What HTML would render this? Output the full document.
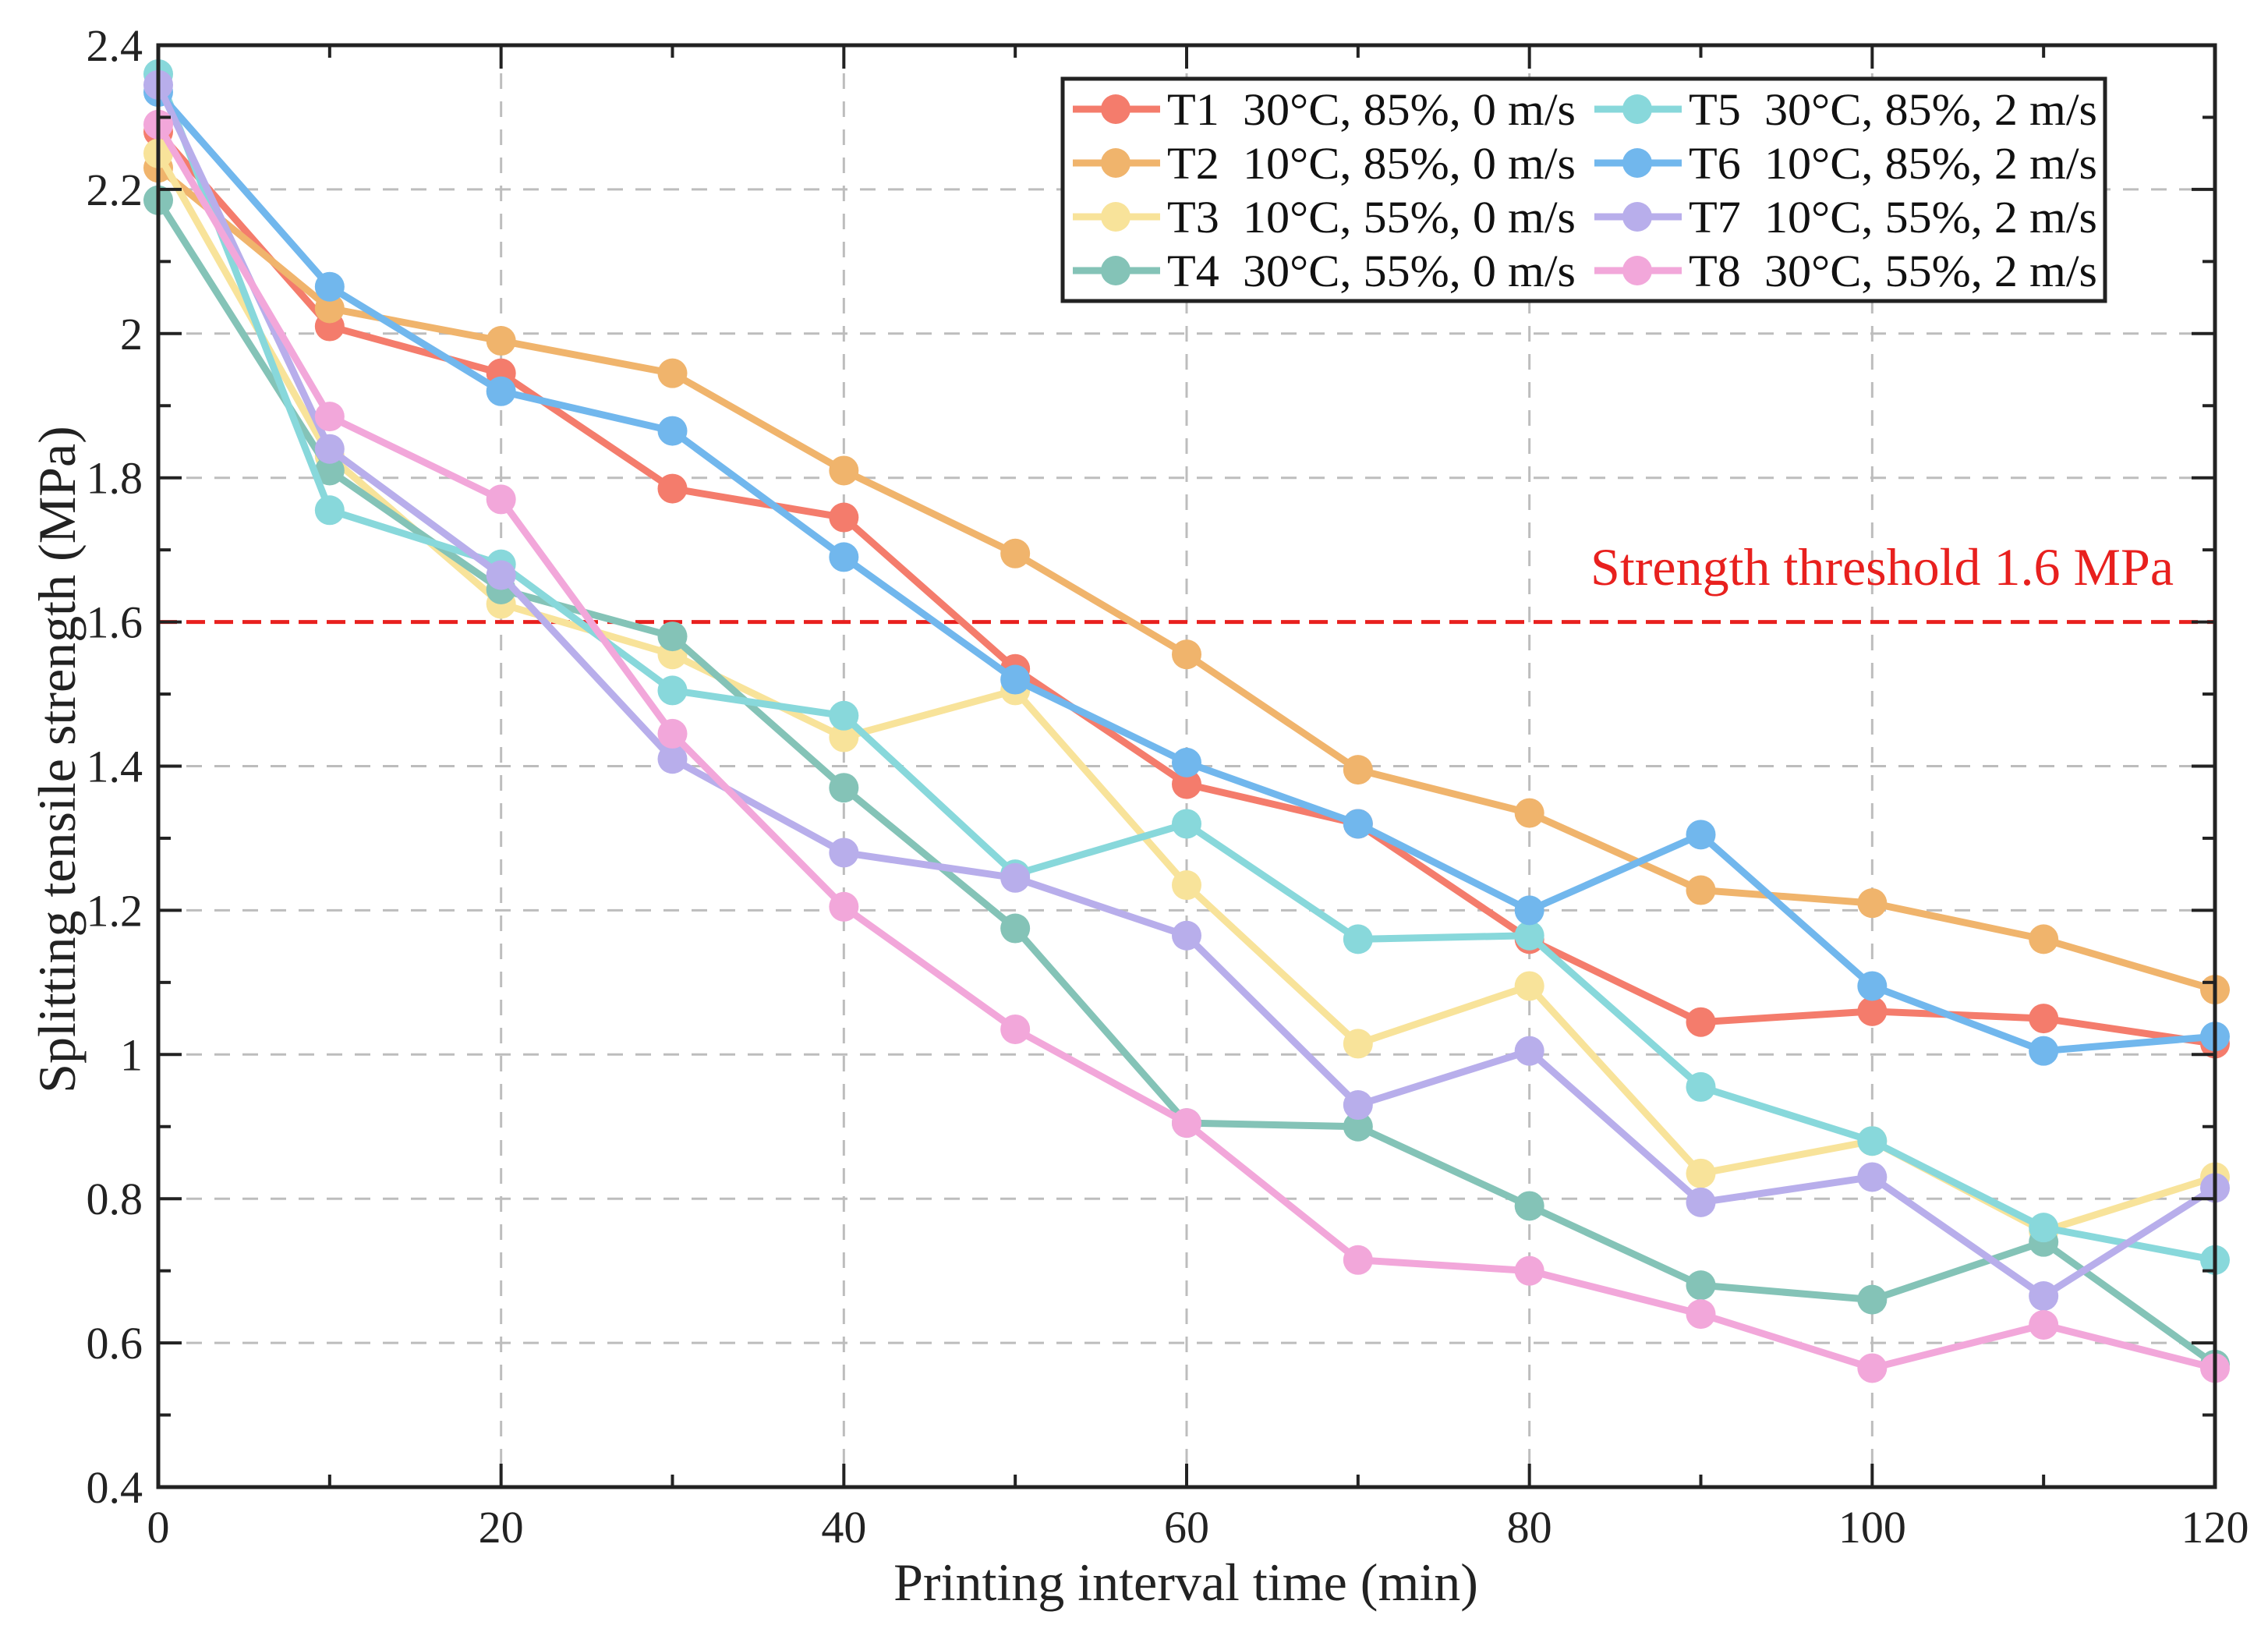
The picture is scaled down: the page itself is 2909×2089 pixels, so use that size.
<!DOCTYPE html>
<html><head><meta charset="utf-8"><style>
html,body{margin:0;padding:0;background:#fff;}
svg{display:block;font-family:"Liberation Serif",serif;}
</style></head><body>
<svg id="chart" width="2909" height="2089" viewBox="0 0 2909 2089" xmlns="http://www.w3.org/2000/svg"></svg>
<script>
const xValues=[0,10,20,30,40,50,60,70,80,90,100,110,120];
const seriesNames=["T1  30°C, 85%, 0 m/s","T2  10°C, 85%, 0 m/s","T3  10°C, 55%, 0 m/s","T4  30°C, 55%, 0 m/s","T5  30°C, 85%, 2 m/s","T6  10°C, 85%, 2 m/s","T7  10°C, 55%, 2 m/s","T8  30°C, 55%, 2 m/s"];
const t1=[2.28,2.01,1.945,1.785,1.745,1.535,1.375,1.32,1.16,1.045,1.06,1.05,1.015];
const t2=[2.23,2.035,1.99,1.945,1.81,1.695,1.555,1.395,1.335,1.228,1.21,1.16,1.09];
const t3=[2.25,1.83,1.625,1.555,1.44,1.505,1.235,1.015,1.095,0.835,0.88,0.755,0.83];
const t4=[2.185,1.81,1.645,1.58,1.37,1.175,0.905,0.9,0.79,0.68,0.66,0.74,0.57];
const t5=[2.36,1.755,1.68,1.505,1.47,1.25,1.32,1.16,1.165,0.955,0.88,0.76,0.715];
const t6=[2.335,2.065,1.92,1.865,1.69,1.52,1.405,1.32,1.2,1.305,1.095,1.005,1.025];
const t7=[2.345,1.84,1.665,1.41,1.28,1.245,1.165,0.93,1.005,0.795,0.83,0.665,0.815];
const t8=[2.29,1.885,1.77,1.445,1.205,1.035,0.905,0.715,0.7,0.64,0.565,0.625,0.565];
const xTicks=[0,20,40,60,80,100,120];
const yTicks=[0.4,0.6,0.8,1,1.2,1.4,1.6,1.8,2,2.2,2.4];
const threshold=1.6;
const colors=["#f47c6c","#f0b46c","#f8e39a","#84c3b7","#88d8db","#71b7ed","#b8aeeb","#f2a7da"];
const series=[t1,t2,t3,t4,t5,t6,t7,t8];

const svg=document.getElementById('chart');
const NS="http://www.w3.org/2000/svg";
const L=203,R=2841,T=58,B=1907;
const X=v=>L+(v-0)/(120-0)*(R-L);
const Y=v=>B-(v-0.4)/(2.4-0.4)*(B-T);
function mk(tag,attrs,parent){const e=document.createElementNS(NS,tag);for(const k in attrs)e.setAttribute(k,attrs[k]);(parent||svg).appendChild(e);return e;}

const grid=mk('g',{});


xTicks.forEach(v=>{if(v>0&&v<120){const l=mk('line',{x1:X(v),x2:X(v),y1:T,y2:B,stroke:'#bdbdbd','stroke-width':3,'stroke-dasharray':'20 16'},grid);

}});
yTicks.forEach(v=>{if(v>0.4&&v<2.4){const l=mk('line',{x1:L,x2:R,y1:Y(v),y2:Y(v),stroke:'#bdbdbd','stroke-width':3,'stroke-dasharray':'20 16'},grid);

}});

const th=mk('line',{x1:L,x2:R,y1:Y(threshold),y2:Y(threshold),stroke:'#e8201e','stroke-width':5,'stroke-dasharray':'24 12'});


const tt=mk('text',{x:2788,y:750,'text-anchor':'end','font-size':68,fill:'#e8201e'});
tt.textContent='Strength threshold 1.6 MPa';



series.forEach((s,i)=>{
  const g=mk('g',{});
  
  
  const pts=s.map((v,j)=>X(xValues[j])+','+Y(v)).join(' ');
  const pl=mk('polyline',{points:pts,fill:'none',stroke:colors[i],'stroke-width':9,'stroke-linejoin':'round'},g);
  
  
  s.forEach((v,j)=>{const c=mk('circle',{cx:X(xValues[j]),cy:Y(v),r:19,fill:colors[i]},g);
  
  });
});

const ax=mk('g',{});


for(let v=0;v<=120;v+=10){const len=(v%20===0)?30:16;
  mk('line',{x1:X(v),x2:X(v),y1:B,y2:B-len,stroke:'#222','stroke-width':4},ax);
  mk('line',{x1:X(v),x2:X(v),y1:T,y2:T+len,stroke:'#222','stroke-width':4},ax);}
for(let k=4;k<=24;k++){const v=k/10;const len=(k%2===0)?30:16;
  mk('line',{x1:L,x2:L+len,y1:Y(v),y2:Y(v),stroke:'#222','stroke-width':4},ax);
  mk('line',{x1:R,x2:R-len,y1:Y(v),y2:Y(v),stroke:'#222','stroke-width':4},ax);}
mk('rect',{x:L,y:T,width:R-L,height:B-T,fill:'none',stroke:'#222','stroke-width':5},ax);

xTicks.forEach(v=>{const t=mk('text',{x:X(v),y:1978,'text-anchor':'middle','font-size':58,fill:'#222'});t.textContent=String(v);

});
yTicks.forEach(v=>{const t=mk('text',{x:183,y:Y(v)+20,'text-anchor':'end','font-size':58,fill:'#222'});t.textContent=String(v);

});

const xt=mk('text',{x:1521,y:2052,'text-anchor':'middle','font-size':68,fill:'#222'});
xt.textContent='Printing interval time (min)';


const yt=mk('text',{x:0,y:0,'text-anchor':'middle','font-size':68,fill:'#222',transform:'translate(96,974) rotate(-90)'});
yt.textContent='Splitting tensile strength (MPa)';



const lg=mk('g',{});


mk('rect',{x:1363,y:101,width:1337,height:285,fill:'#fff',stroke:'#222','stroke-width':5},lg);
const rowsY=[140,209,278,347];
seriesNames.forEach((n,i)=>{
  const col=Math.floor(i/4),row=i%4;
  const x0=col?2045:1376, y0=rowsY[row];
  const e=mk('g',{},lg);
  
  
  mk('line',{x1:x0,x2:x0+112,y1:y0,y2:y0,stroke:colors[i],'stroke-width':9},e);
  mk('circle',{cx:x0+55,cy:y0,r:19,fill:colors[i]},e);
  const t=mk('text',{x:x0+121,y:y0+20,'font-size':58,fill:'#111',textLength:524,lengthAdjust:'spacingAndGlyphs'},e);
  t.setAttribute('style','white-space:pre');
  t.textContent=n;
});
</script>
</body></html>
